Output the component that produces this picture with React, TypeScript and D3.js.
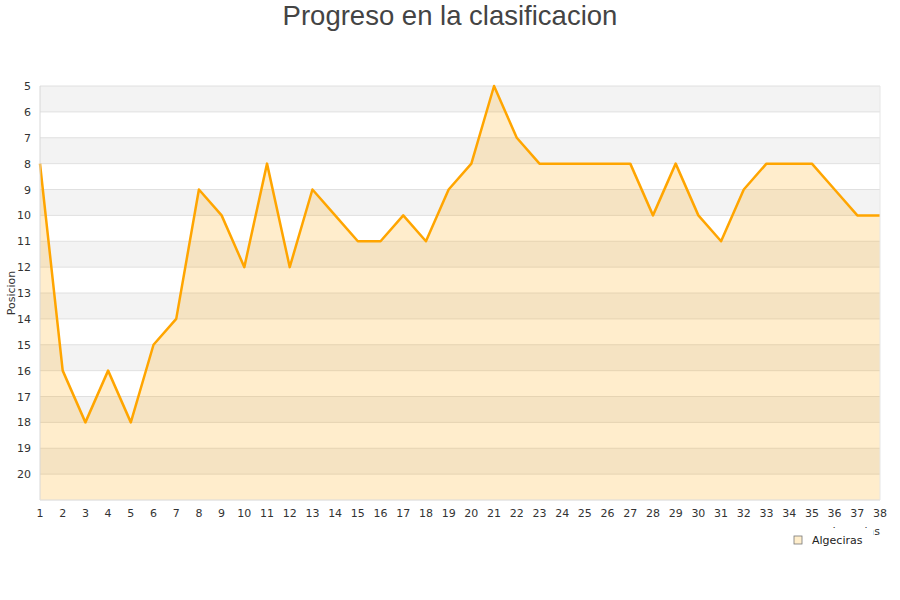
import { useRef, useEffect } from 'react'
import * as d3 from 'd3'

const title = 'Progreso en la clasificacion'
const yTitle = 'Posicion'
const xTitle = 'Jornadas'
const teamName = 'Algeciras'
const rounds = d3.range(1, 39)
const positions = [
  8, 16, 18, 16, 18, 15, 14, 9, 10, 12, 8, 12, 9, 10, 11, 11, 10, 11, 9, 8,
  5, 7, 8, 8, 8, 8, 8, 10, 8, 10, 11, 9, 8, 8, 8, 9, 10, 10,
]
const yTicks = d3.range(5, 21)

const App = () => {
  const ref = useRef<SVGSVGElement>(null)

  useEffect(() => {
    if (!ref.current) return
    const svg = d3.select(ref.current)
    svg.selectAll('*').remove()
    const width = 900
    const height = 600
    const margin = { top: 86, right: 20, bottom: 100, left: 40 }
    const innerWidth = width - margin.left - margin.right
    const innerHeight = height - margin.top - margin.bottom
    const font = '"DejaVu Sans", sans-serif'

    svg.attr('viewBox', `0 0 ${width} ${height}`)

    svg.append('text')
      .attr('x', width / 2)
      .attr('y', 25)
      .attr('text-anchor', 'middle')
      .attr('font-family', '"Liberation Sans", Arial, sans-serif')
      .attr('font-size', 27.5)
      .attr('fill', '#444')
      .text(title)

    const g = svg.append('g').attr('transform', `translate(${margin.left},${margin.top})`)

    const x = d3.scaleLinear().domain([1, 38]).range([0, innerWidth])
    const y = d3.scaleLinear().domain([5, 21]).range([0, innerHeight])

    // alternating bands
    g.selectAll('.band')
      .data(d3.range(5, 21))
      .enter()
      .append('rect')
      .attr('x', 0)
      .attr('y', d => y(d))
      .attr('width', innerWidth)
      .attr('height', d => y(d + 1) - y(d))
      .attr('fill', d => ((d - 5) % 2 === 0 ? '#f3f3f3' : '#ffffff'))

    // grid lines
    g.selectAll('.grid')
      .data(d3.range(5, 22))
      .enter()
      .append('line')
      .attr('x1', 0)
      .attr('x2', innerWidth)
      .attr('y1', d => y(d))
      .attr('y2', d => y(d))
      .attr('stroke', '#e0e0e0')
      .attr('stroke-width', 1)

    const data = rounds.map((r, i) => ({ r, p: positions[i] }))

    const area = d3.area<{ r: number; p: number }>()
      .x(d => x(d.r))
      .y0(innerHeight)
      .y1(d => y(d.p))
    g.append('path')
      .datum(data)
      .attr('d', area)
      .attr('fill', 'rgba(255,165,0,0.2)')

    const line = d3.line<{ r: number; p: number }>()
      .x(d => x(d.r))
      .y(d => y(d.p))
    g.append('path')
      .datum(data)
      .attr('d', line)
      .attr('fill', 'none')
      .attr('stroke', '#ffa500')
      .attr('stroke-width', 2.5)
      .attr('stroke-linejoin', 'round')

    // frame
    g.append('line')
      .attr('x1', 0).attr('x2', 0).attr('y1', 0).attr('y2', innerHeight)
      .attr('stroke', '#d8d8d8')
    g.append('line')
      .attr('x1', innerWidth).attr('x2', innerWidth).attr('y1', 0).attr('y2', innerHeight)
      .attr('stroke', '#e6e6e6')
    g.append('line')
      .attr('x1', 0).attr('x2', innerWidth).attr('y1', innerHeight).attr('y2', innerHeight)
      .attr('stroke', '#e6e6e6')

    // y labels
    g.selectAll('.ylab')
      .data(yTicks)
      .enter()
      .append('text')
      .attr('x', -9)
      .attr('y', d => y(d) + 4)
      .attr('text-anchor', 'end')
      .attr('font-family', font)
      .attr('font-size', 11)
      .attr('fill', '#333')
      .text(d => d)

    // x labels
    g.selectAll('.xlab')
      .data(rounds)
      .enter()
      .append('text')
      .attr('x', d => x(d))
      .attr('y', innerHeight + 17)
      .attr('text-anchor', 'middle')
      .attr('font-family', font)
      .attr('font-size', 11)
      .attr('fill', '#333')
      .text(d => d)

    svg.append('text')
      .attr('transform', `translate(15,${margin.top + innerHeight / 2}) rotate(-90)`)
      .attr('text-anchor', 'middle')
      .attr('font-family', font)
      .attr('font-size', 11)
      .attr('fill', '#333')
      .text(yTitle)

    // x title, mostly hidden behind the legend box as in the original
    svg.append('text')
      .attr('x', 880)
      .attr('y', 535)
      .attr('text-anchor', 'end')
      .attr('font-family', font)
      .attr('font-size', 11)
      .attr('fill', '#333')
      .text(xTitle)

    // legend
    const lg = svg.append('g').attr('transform', 'translate(786,528)')
    lg.append('rect')
      .attr('x', 0).attr('y', 0).attr('width', 87.5).attr('height', 22)
      .attr('fill', '#fff')
    lg.append('rect')
      .attr('x', 8).attr('y', 8).attr('width', 8).attr('height', 8)
      .attr('fill', '#ffeecc')
      .attr('stroke', '#777')
      .attr('stroke-width', 0.8)
    lg.append('text')
      .attr('x', 26)
      .attr('y', 15.5)
      .attr('font-family', font)
      .attr('font-size', 11)
      .attr('fill', '#222')
      .text(teamName)
  }, [])

  return (
    <svg
      ref={ref}
      width={900}
      height={600}
      style={{ display: 'block', position: 'absolute', left: 0, top: 0 }}
    />
  )
}

export default App
